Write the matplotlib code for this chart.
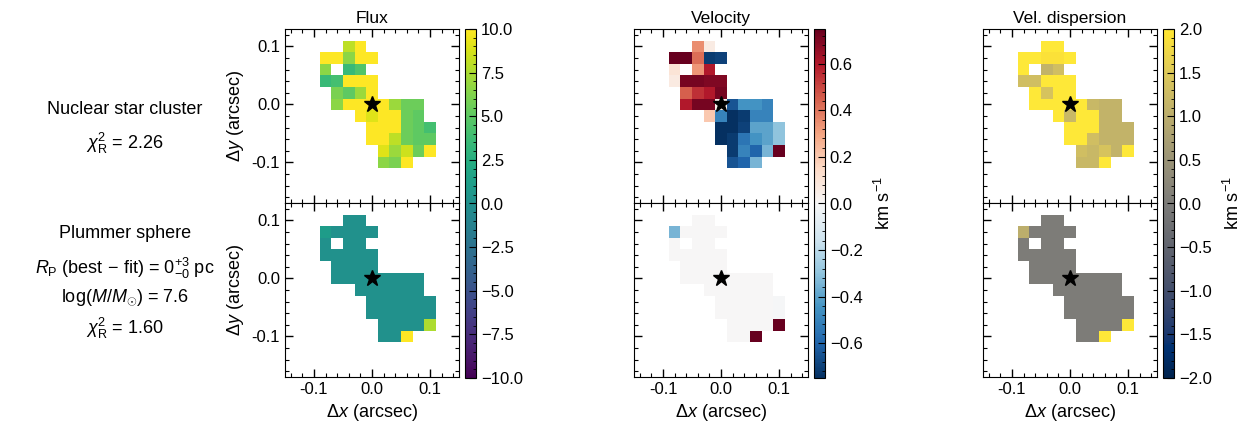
import numpy as np
import matplotlib
matplotlib.use("Agg")
import matplotlib.pyplot as plt
from matplotlib.ticker import MultipleLocator, FuncFormatter

plt.rcParams['font.family'] = ['Liberation Sans', 'DejaVu Sans']
plt.rcParams['mathtext.fontset'] = 'custom'
plt.rcParams['mathtext.rm'] = 'Liberation Sans'
plt.rcParams['mathtext.it'] = 'Liberation Sans:italic'
plt.rcParams['mathtext.bf'] = 'Liberation Sans:bold'
plt.rcParams['axes.unicode_minus'] = False

N = np.nan
# pixel centres in arcsec
x_pix = [-0.08, -0.06, -0.04, -0.02, 0.00, 0.02, 0.04, 0.06, 0.08, 0.10]
y_pix = [0.10, 0.08, 0.06, 0.04, 0.02, 0.00, -0.02, -0.04, -0.06, -0.08, -0.10]

flux_nsc = [
    [N, N, 8, 12, N, N, N, N, N, N],
    [12, 12, 6.5, 12, 12, N, N, N, N, N],
    [6.5, N, 3.5, 4.5, N, N, N, N, N, N],
    [3.5, 4, 12, 12, 12, N, N, N, N, N],
    [N, 6, 5, 7, 12, N, N, N, N, N],
    [N, 6.5, 12, 12, 12, 12, 7, 5.5, 5.5, N],
    [N, N, N, 12, 9, 12, 12, 5.5, 5, N],
    [N, N, N, N, 12, 12, 12, 5.5, 5, 4],
    [N, N, N, N, 12, 12, 8, 5.5, 5, 5],
    [N, N, N, N, N, 9, 7, 8.5, 5.5, 12],
    [N, N, N, N, N, 6.5, 6, 12, N, N],
]
flux_plum = [
    [N, N, 0, 0, N, N, N, N, N, N],
    [1, 0, 0, 0, 0, N, N, N, N, N],
    [0, N, 0, 0, N, N, N, N, N, N],
    [0, 0, 0, 0, 0, N, N, N, N, N],
    [N, 0, 0, 0, 0, N, N, N, N, N],
    [N, 0, 0, 0, 0, 0, 0, 0, 0, N],
    [N, N, N, 0, 0, 0, 0, 0, 0, N],
    [N, N, N, N, 0, 0, 0, 0, 0, 0],
    [N, N, N, N, 0, 0, 0, 0, 0, 0],
    [N, N, N, N, N, 0, 0, 0, 0, 7.5],
    [N, N, N, N, N, 0, 0, 10, N, N],
]
vel_nsc = [
    [N, N, 0.35, 0.06, N, N, N, N, N, N],
    [0.8, 0.75, 0.42, -0.72, -0.7, N, N, N, N, N],
    [0.1, N, 0.33, 0.6, N, N, N, N, N, N],
    [0.07, 0.72, 0.72, 0.7, 0.7, N, N, N, N, N],
    [N, 0.45, 0.55, 0.6, 0.72, N, N, N, N, N],
    [N, 0.6, 0.72, 0.72, 0.03, -0.65, -0.45, -0.45, -0.5, N],
    [N, N, N, 0.2, -0.5, -0.75, -0.72, -0.5, -0.5, N],
    [N, N, N, N, -0.75, -0.75, -0.7, -0.4, -0.4, -0.3],
    [N, N, N, N, -0.75, -0.72, -0.55, -0.45, -0.4, -0.3],
    [N, N, N, N, N, -0.72, -0.5, -0.6, -0.35, 0.8],
    [N, N, N, N, N, -0.65, -0.6, -0.35, N, N],
]
vel_plum = [
    [N, N, 0, 0, N, N, N, N, N, N],
    [-0.35, 0, 0, 0, 0, N, N, N, N, N],
    [0, N, 0, 0, N, N, N, N, N, N],
    [0, 0, 0, 0, 0, N, N, N, N, N],
    [N, 0, 0, 0, 0, N, N, N, N, N],
    [N, 0, 0, 0, 0, 0, 0, 0, 0, N],
    [N, N, N, 0, 0, 0, 0, 0, 0, N],
    [N, N, N, N, 0, 0, 0, 0, 0, -0.01],
    [N, N, N, N, 0, 0, 0, 0, 0, -0.01],
    [N, N, N, N, N, 0, 0, 0, 0, 0.8],
    [N, N, N, N, N, 0, 0, 0.8, N, N],
]
disp_nsc = [
    [N, N, 2.2, 2.2, N, N, N, N, N, N],
    [2.2, 2.2, 1.9, 1.9, 2.2, N, N, N, N, N],
    [2.2, N, 1.1, 1.3, N, N, N, N, N, N],
    [1.3, 1.3, 2.2, 2.2, 2.2, N, N, N, N, N],
    [N, 2.2, 1.4, 2.2, 2.2, N, N, N, N, N],
    [N, 2.2, 2.2, 2.2, 2.2, 2.2, 1.2, 1.1, 1.1, N],
    [N, N, N, 2.2, 1.2, 2.2, 2.2, 1.1, 1.1, N],
    [N, N, N, N, 2.2, 2.2, 2.2, 1.1, 1.1, 1.1],
    [N, N, N, N, 2.2, 2.2, 1.3, 1.1, 1.1, 1.1],
    [N, N, N, N, N, 1.3, 1.2, 1.4, 1.1, 2.2],
    [N, N, N, N, N, 1.2, 1.2, 2.2, N, N],
]
disp_plum = [
    [N, N, 0, 0, N, N, N, N, N, N],
    [1.0, 0, 0, 0, 0, N, N, N, N, N],
    [0, N, 0, 0, N, N, N, N, N, N],
    [0, 0, 0, 0, 0, N, N, N, N, N],
    [N, 0, 0, 0, 0, N, N, N, N, N],
    [N, 0, 0, 0, 0, 0, 0, 0, 0, N],
    [N, N, N, 0, 0, 0, 0, 0, 0, N],
    [N, N, N, N, 0, 0, 0, 0, 0, 0],
    [N, N, N, N, 0, 0, 0, 0, 0, 0],
    [N, N, N, N, N, 0, 0, 0, 0, 2.2],
    [N, N, N, N, N, 0, 0, 2.2, N, N],
]

titles = ['Flux', 'Velocity', 'Vel. dispersion']
cmaps = ['viridis', 'RdBu_r', 'cividis']
limits = [(-10, 10), (-0.75, 0.75), (-2, 2)]
cb_major = [2.5, 0.2, 0.5]
cb_minor = [0.5, 0.04, 0.1]
cb_units = [None, r'km s$^{-1}$', r'km s$^{-1}$']
maps = [[flux_nsc, vel_nsc, disp_nsc], [flux_plum, vel_plum, disp_plum]]

W, H = 1243, 436
fig = plt.figure(figsize=(W / 100, H / 100), dpi=100)

lefts = [285, 634, 983]
axw = 174
tops = [29, 203]

def axfmt(v, p):
    return '0.0' if abs(v) < 1e-9 else '{:.1f}'.format(v)

def cbfmt(v, p):
    return '{:.1f}'.format(0.0 if abs(v) < 1e-9 else v).replace('-', '\u2212')

for j in range(3):
    for i in range(2):
        ax = fig.add_axes([lefts[j] / W, 1 - (tops[i] + axw) / H, axw / W, axw / H])
        Z = np.ma.masked_invalid(np.array(maps[i][j], dtype=float))
        m = ax.pcolormesh(x_pix, y_pix, Z, cmap=cmaps[j], vmin=limits[j][0], vmax=limits[j][1],
                          shading='nearest')
        ax.plot(0, 0, marker='*', color='k', markersize=12, linestyle='none')
        ax.set_xlim(-0.15, 0.15)
        ax.set_ylim(-0.17, 0.13)
        ax.xaxis.set_major_locator(MultipleLocator(0.1))
        ax.xaxis.set_minor_locator(MultipleLocator(0.02))
        ax.yaxis.set_major_locator(MultipleLocator(0.1))
        ax.yaxis.set_minor_locator(MultipleLocator(0.02))
        ax.tick_params(which='both', direction='in', top=True, right=True, labelsize=12)
        ax.tick_params(which='major', length=6, width=1)
        ax.tick_params(which='minor', length=3, width=0.8)
        ax.xaxis.set_major_formatter(FuncFormatter(axfmt))
        ax.yaxis.set_major_formatter(FuncFormatter(axfmt))
        if i == 0:
            ax.set_title(titles[j], fontsize=12.5, pad=4)
            ax.tick_params(labelbottom=False)
        else:
            ax.set_xlabel(r'$\Delta x$ (arcsec)', fontsize=13)
        if j == 0:
            ax.set_ylabel(r'$\Delta y$ (arcsec)', fontsize=13)
        else:
            ax.tick_params(labelleft=False)
    cax = fig.add_axes([(lefts[j] + axw + 6) / W, 1 - 378 / H, 11 / W, 349 / H])
    cb = fig.colorbar(m, cax=cax)
    cb.locator = MultipleLocator(cb_major[j])
    cb.formatter = FuncFormatter(cbfmt)
    cb.update_ticks()
    cax.yaxis.set_minor_locator(MultipleLocator(cb_minor[j]))
    cax.tick_params(which='both', direction='in', labelsize=12)
    cax.tick_params(which='major', length=5)
    cax.tick_params(which='minor', length=2.5)
    if cb_units[j]:
        cb.set_label(cb_units[j], fontsize=13, labelpad=8)

lx = 125 / W
fig.text(lx, 1 - 110 / H, 'Nuclear star cluster', ha='center', va='center', fontsize=13)
fig.text(lx, 1 - 143 / H, r'$\chi^2_{\rm R}$ = 2.26', ha='center', va='center', fontsize=13)
fig.text(lx, 1 - 233 / H, 'Plummer sphere', ha='center', va='center', fontsize=13)
fig.text(lx, 1 - 268 / H, r'$R_{\rm P}$ (best$\,-\,$fit) = 0$^{+3}_{-0}$ pc', ha='center', va='center', fontsize=13)
fig.text(lx, 1 - 298 / H, r'log($M/M_{\odot}$) = 7.6', ha='center', va='center', fontsize=13)
fig.text(lx, 1 - 328 / H, r'$\chi^2_{\rm R}$ = 1.60', ha='center', va='center', fontsize=13)

fig.savefig('out.png', dpi=100)
